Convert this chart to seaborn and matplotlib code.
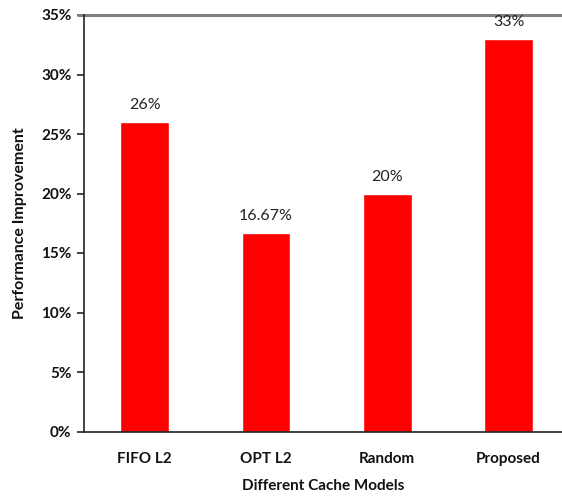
import matplotlib
matplotlib.use("Agg")
import matplotlib.pyplot as plt
import seaborn as sns
import pandas as pd
from matplotlib.ticker import FuncFormatter, MultipleLocator

models = ["FIFO L2", "OPT L2", "Random", "Proposed"]
improvement = [26, 16.67, 20, 33]
labels = ["26%", "16.67%", "20%", "33%"]

sns.set_theme(style="white")
plt.rcParams["font.family"] = ["Lato", "DejaVu Sans"]

df = pd.DataFrame({"model": models, "value": improvement})

fig = plt.figure(figsize=(5.62, 4.97), dpi=100)
ax = fig.add_axes([84 / 562, 1 - 431.5 / 497, (562 - 84) / 562, (431.5 - 15) / 497])

sns.barplot(data=df, x="model", y="value", color="#ff0000", saturation=1,
            width=0.40, ax=ax)

for i, (v, t) in enumerate(zip(improvement, labels)):
    ax.annotate(t, (i, v), xytext=(0, 7), textcoords="offset points",
                ha="center", va="bottom", fontsize=11.5, color="#222222")

ax.set_xlim(-0.5, 3.44)
ax.set_ylim(0, 35)
ax.yaxis.set_major_locator(MultipleLocator(5))
ax.yaxis.set_major_formatter(FuncFormatter(lambda v, p: f"{v:.0f}%"))

for s in ["top", "right"]:
    ax.spines[s].set_visible(False)
ax.spines["left"].set_color("#222222")
ax.spines["bottom"].set_color("#222222")
ax.spines["left"].set_linewidth(1.2)
ax.spines["bottom"].set_linewidth(1.2)
ax.axhline(35, xmin=-6 / 478, color="#808080", lw=2.2, clip_on=False)

ax.tick_params(axis="y", which="major", left=True, length=5, width=1.2,
               color="#222222", pad=4)
ax.tick_params(axis="x", bottom=False, pad=9)
for lab in ax.get_yticklabels() + ax.get_xticklabels():
    lab.set_fontweight("bold")
    lab.set_fontsize(11)
    lab.set_color("#111111")

ax.set_xlabel("Different Cache Models", fontsize=11, fontweight="bold",
              color="#111111", labelpad=9)
ax.set_ylabel("Performance Improvement", fontsize=11.5, fontweight="bold",
              color="#111111", labelpad=10)

fig.savefig("out.png", dpi=100)
